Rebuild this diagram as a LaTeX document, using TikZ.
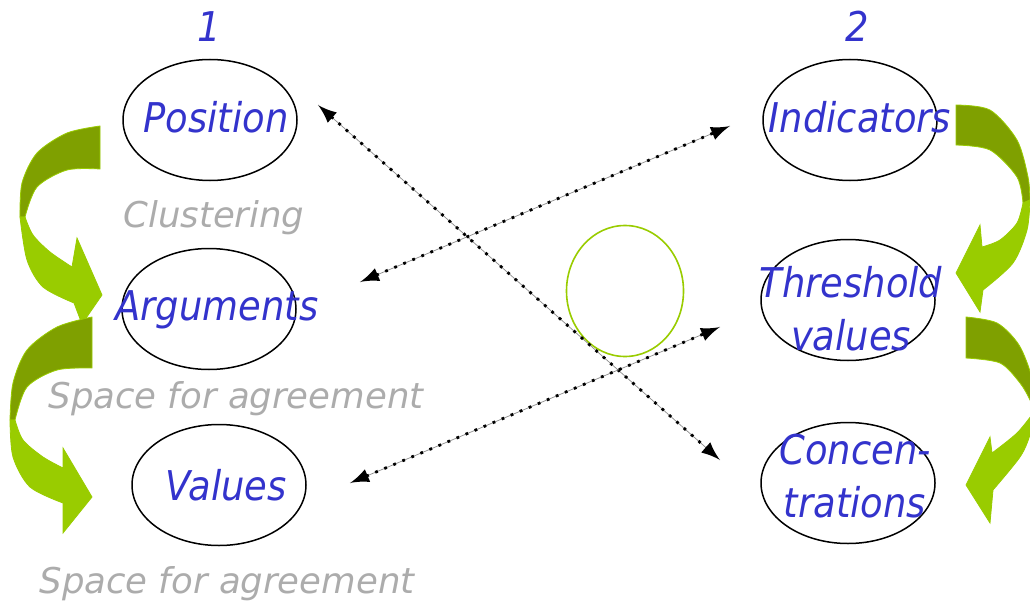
\documentclass[tikz,border=0pt]{standalone}
\usepackage{fontspec}
\setmainfont{DejaVu Sans}
\newfontfamily\bluefam{DejaVu Sans}[FakeStretch=0.9]
\newfontfamily\grayfam{DejaVu Sans}
\usetikzlibrary{arrows.meta,shapes.geometric}
\definecolor{txtblue}{HTML}{3333CC}
\definecolor{txtgray}{HTML}{ACACAC}
\definecolor{lgreen}{HTML}{99CC00}
\definecolor{dgreen}{HTML}{7FA000}
\begin{document}
\begin{tikzpicture}[x=1pt,y=-1pt,
  oval/.style={draw=black, line width=1.5pt, ellipse, inner sep=0pt, minimum width=174pt, minimum height=121pt},
  bluetxt/.style={text=txtblue, inner sep=0pt, anchor=base, align=center, font=\bluefam\itshape\fontsize{41}{53}\selectfont},
  graytxt/.style={text=txtgray, inner sep=0pt, anchor=base, font=\grayfam\itshape\fontsize{35.5}{40}\selectfont},
  conn/.style={draw=black, line width=2.8pt, dash pattern=on 2.8pt off 7pt,
     {Latex[length=19pt,width=14pt]}-{Latex[length=19pt,width=14pt]},
     preaction={draw=black!45, line width=0.7pt, solid, -}},
  darkpart/.style={fill=dgreen, draw=lgreen, line width=0.8pt},
  lightpart/.style={fill=lgreen, draw=lgreen, line width=0.8pt}
]
\useasboundingbox (0,0) rectangle (1030,607);
\clip (0,0) rectangle (1030,607);

% green curved arrows (left)
\path[darkpart] plot[smooth] coordinates {(100,126) (67,133) (37,153) (22,183) (20,217)}
  -- plot[smooth] coordinates {(25,217) (37,187) (67,170) (100,169)} -- cycle;
\path[lightpart] plot[smooth] coordinates {(20,217) (27,260) (43,287) (74,303)}
  -- (82,324) -- (102,295) -- (77,238) -- (72,267)
  -- plot[smooth] coordinates {(72,267) (50,252) (33,235) (25,217)} -- cycle;

\path[darkpart] plot[smooth] coordinates {(92,317) (57,327) (27,350) (13,383) (10,420)}
  -- plot[smooth] coordinates {(15,420) (27,387) (57,370) (92,368)} -- cycle;
\path[lightpart] plot[smooth] coordinates {(10,420) (13,457) (30,487) (63,503)}
  -- (63,533) -- (92,497) -- (63,448) -- (63,468)
  -- plot[smooth] coordinates {(63,468) (43,457) (23,440) (15,420)} -- cycle;

% green curved arrows (right)
\path[darkpart] plot[smooth] coordinates {(956,105) (990,110) (1017,140) (1028,177) (1030,200)}
  -- plot[smooth] coordinates {(1023,203) (1017,177) (990,150) (956,145)} -- cycle;
\path[lightpart] plot[smooth] coordinates {(1030,200) (1027,230) (1013,263) (983,290)}
  -- (980,312) -- (956,273) -- (980,225) -- (982,247)
  -- plot[smooth] coordinates {(982,247) (1000,240) (1017,223) (1023,203)} -- cycle;

\path[darkpart] plot[smooth] coordinates {(966,317) (997,323) (1019,345) (1032,378) (1036,410)}
  -- plot[smooth] coordinates {(1034,412) (1030,400) (1020,383) (1000,363) (966,358)} -- cycle;
\path[lightpart] plot[smooth] coordinates {(1036,410) (1030,435) (1020,457) (993,490)}
  -- (990,523) -- (966,485) -- (990,437) -- (992,453)
  -- plot[smooth] coordinates {(992,453) (1017,433) (1034,412)} -- cycle;

% ellipses
\node[oval] (pos) at (210,120) {};
\node[oval] (arg) at (209,309) {};
\node[oval] (val) at (219,485) {};
\node[oval] (ind) at (850,120) {};
\node[oval] (thr) at (848,300) {};
\node[oval] (con) at (848,483) {};
\node[draw=lgreen, line width=1.6pt, ellipse, inner sep=0pt, minimum width=117pt, minimum height=131pt] (circ) at (625,291) {};

% texts
\node[bluetxt] (n1) at (209,42) {1};
\node[bluetxt] (n2) at (857,42) {2};
\node[bluetxt] (posT) at (216,132) {Position};
\node[bluetxt] (argT) at (217,320) {Arguments};
\node[bluetxt] (valT) at (226,500) {Values};
\node[bluetxt] (indT) at (860,132) {Indicators};
\node[bluetxt] (thrT) at (851,350) {Threshold\\values};
\node[bluetxt] (conT) at (855,517) {Concen-\\trations};
\node[graytxt] (clT) at (214,227) {Clustering};
\node[graytxt] (sp1) at (236,408) {Space for agreement};
\node[graytxt] (sp2) at (227,593) {Space for agreement};

% connectors
\coordinate (a1) at (318,105);
\coordinate (a2) at (720,460);
\coordinate (b1) at (360,282);
\coordinate (b2) at (730,126);
\coordinate (c1) at (350,483);
\coordinate (c2) at (720,327);
\draw[conn] (a1) -- (a2);
\draw[conn] (b1) -- (b2);
\draw[conn] (c1) -- (c2);
\end{tikzpicture}
\end{document}
